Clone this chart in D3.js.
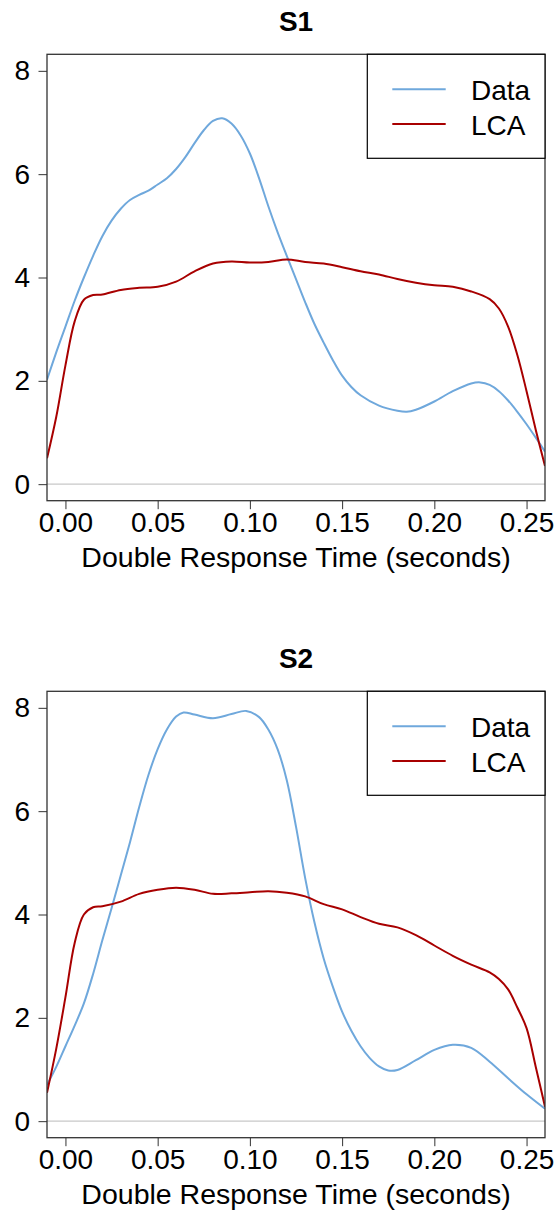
<!DOCTYPE html>
<html>
<head>
<meta charset="utf-8">
<script src="https://cdn.jsdelivr.net/npm/d3@7"></script>
<style>
  html, body { margin: 0; padding: 0; background: #fff; }
  svg text { font-family: "Liberation Sans", Arial, Helvetica, sans-serif; fill: #000; }
</style>
</head>
<body>
<svg id="chart" width="556" height="1211"></svg>
<script>
// ---------- data ----------
const panelTitles = ["S1", "S2"];
const seriesNames = ["Data", "LCA"];
const seriesColors = ["#6fa8dc", "#a80000"];
const xTickValues = [0, 0.05, 0.10, 0.15, 0.20, 0.25];
const yTickValues = [0, 2, 4, 6, 8];
const xLabel = "Double Response Time (seconds)";

// S1 - Data
const s1DataT = [-0.01,-0.005,0,0.005,0.01,0.015,0.02,0.025,0.03,0.035,0.04,0.045,0.05,0.055,0.06,0.065,0.07,0.075,0.08,0.085,0.09,0.095,0.1,0.105,0.11,0.115,0.12,0.125,0.13,0.135,0.14,0.145,0.15,0.155,0.16,0.17,0.18,0.185,0.19,0.2,0.21,0.22,0.225,0.23,0.235,0.24,0.245,0.25,0.255,0.26];
const s1DataV = [2.02,2.55,3.05,3.55,4.0,4.42,4.8,5.1,5.33,5.5,5.6,5.68,5.8,5.92,6.1,6.33,6.6,6.85,7.03,7.08,6.98,6.75,6.4,5.92,5.38,4.88,4.42,3.97,3.52,3.1,2.74,2.4,2.1,1.88,1.72,1.52,1.42,1.4,1.44,1.6,1.8,1.95,1.97,1.92,1.8,1.62,1.4,1.16,0.9,0.63];
// S1 - LCA
const s1LcaT = [-0.01,-0.005,0,0.005,0.01,0.015,0.02,0.03,0.04,0.05,0.06,0.07,0.08,0.09,0.1,0.11,0.12,0.13,0.14,0.15,0.16,0.17,0.18,0.19,0.2,0.21,0.22,0.23,0.235,0.24,0.245,0.25,0.255,0.26];
const s1LcaV = [0.5,1.3,2.3,3.15,3.57,3.66,3.67,3.76,3.8,3.82,3.92,4.12,4.27,4.31,4.29,4.3,4.35,4.3,4.27,4.2,4.12,4.06,3.97,3.9,3.85,3.82,3.73,3.58,3.4,3.05,2.5,1.8,1.05,0.35];
// S2 - Data
const s2DataT = [-0.01,-0.005,0,0.005,0.01,0.015,0.02,0.025,0.03,0.035,0.04,0.045,0.05,0.055,0.06,0.064,0.07,0.08,0.09,0.098,0.105,0.11,0.115,0.12,0.125,0.13,0.135,0.14,0.145,0.15,0.155,0.16,0.165,0.17,0.175,0.18,0.19,0.2,0.21,0.22,0.23,0.24,0.25,0.26];
const s2DataV = [0.7,1.05,1.45,1.85,2.28,2.85,3.5,4.12,4.76,5.4,6.08,6.7,7.2,7.58,7.83,7.91,7.87,7.8,7.88,7.94,7.82,7.58,7.2,6.6,5.7,4.7,3.85,3.15,2.6,2.12,1.75,1.45,1.22,1.06,0.98,0.99,1.18,1.38,1.48,1.42,1.15,0.83,0.52,0.24];
// S2 - LCA
const s2LcaT = [-0.01,-0.005,0,0.005,0.01,0.015,0.02,0.03,0.04,0.05,0.06,0.07,0.08,0.09,0.1,0.11,0.12,0.13,0.14,0.15,0.16,0.17,0.18,0.19,0.2,0.21,0.22,0.23,0.235,0.24,0.245,0.25,0.255,0.26];
const s2LcaV = [0.55,1.4,2.4,3.45,4.0,4.14,4.16,4.25,4.4,4.48,4.52,4.48,4.4,4.41,4.43,4.45,4.42,4.35,4.2,4.1,3.95,3.82,3.75,3.6,3.4,3.2,3.03,2.88,2.75,2.55,2.2,1.8,1.05,0.28];

const panels = [
  { title: panelTitles[0], series: [ [s1DataT, s1DataV], [s1LcaT, s1LcaV] ] },
  { title: panelTitles[1], series: [ [s2DataT, s2DataV], [s2LcaT, s2LcaV] ] }
];

// ---------- layout ----------
const svg = d3.select("#chart");
const plotL = 47, plotR = 545, plotT = 54.3, plotB = 500.7;
const panelOffset = 637;
const fontSize = 28;

const x = d3.scaleLinear().domain([-0.01, 0.26]).range([plotL, plotR]);
const y = d3.scaleLinear().domain([-0.32, 8.32]).range([plotB, plotT]);

panels.forEach((p, i) => {
  const g = svg.append("g").attr("transform", `translate(0,${i * panelOffset})`);
  const clipId = "clip" + i;
  g.append("clipPath").attr("id", clipId)
    .append("rect").attr("x", plotL).attr("y", plotT)
    .attr("width", plotR - plotL).attr("height", plotB - plotT);

  // title
  g.append("text")
    .attr("x", (plotL + plotR) / 2).attr("y", 30.7)
    .attr("text-anchor", "middle")
    .style("font-size", fontSize + "px").style("font-weight", "bold")
    .text(p.title);

  // zero reference line
  g.append("line")
    .attr("x1", plotL).attr("x2", plotR)
    .attr("y1", y(0)).attr("y2", y(0))
    .attr("stroke", "#c8c8c8").attr("stroke-width", 1.2);

  // curves
  const line = d3.line()
    .x(d => x(d[0])).y(d => y(d[1]))
    .curve(d3.curveCatmullRom.alpha(0.5));
  p.series.forEach((s, k) => {
    const pts = s[0].map((t, j) => [t, s[1][j]]);
    g.append("path")
      .attr("clip-path", `url(#${clipId})`)
      .attr("d", line(pts))
      .attr("fill", "none")
      .attr("stroke", seriesColors[k])
      .attr("stroke-width", 2);
  });

  // axes
  const xAxis = d3.axisBottom(x).tickValues(xTickValues)
    .tickFormat(d3.format(".2f")).tickSize(8.5).tickSizeOuter(0).tickPadding(3);
  const xg = g.append("g").attr("transform", `translate(0,${plotB})`).call(xAxis);
  xg.select(".domain").remove();
  xg.selectAll("text").style("font-size", fontSize + "px").attr("fill", "#000");
  xg.selectAll("line").attr("stroke", "#333");

  const yAxis = d3.axisLeft(y).tickValues(yTickValues)
    .tickFormat(d3.format("d")).tickSize(8.5).tickSizeOuter(0).tickPadding(8.5);
  const yg = g.append("g").attr("transform", `translate(${plotL},0)`).call(yAxis);
  yg.select(".domain").remove();
  yg.selectAll("text").style("font-size", fontSize + "px").attr("fill", "#000");
  yg.selectAll("line").attr("stroke", "#333");

  // plot box
  g.append("rect")
    .attr("x", plotL).attr("y", plotT)
    .attr("width", plotR - plotL).attr("height", plotB - plotT)
    .attr("fill", "none").attr("stroke", "#333").attr("stroke-width", 1.3);

  // x label
  g.append("text")
    .attr("x", (plotL + plotR) / 2).attr("y", 567)
    .attr("text-anchor", "middle")
    .style("font-size", "28.5px")
    .text(xLabel);

  // legend
  const lg = g.append("g");
  lg.append("rect")
    .attr("x", 367.3).attr("y", plotT)
    .attr("width", plotR - 367.3).attr("height", 158.3 - plotT)
    .attr("fill", "#fff").attr("stroke", "#000").attr("stroke-width", 1.2);
  const legY = [89.3, 124];
  seriesNames.forEach((n, k) => {
    lg.append("line")
      .attr("x1", 392.3).attr("x2", 445.7)
      .attr("y1", legY[k]).attr("y2", legY[k])
      .attr("stroke", seriesColors[k]).attr("stroke-width", 2);
    lg.append("text")
      .attr("x", 471).attr("y", legY[k] + 10.5)
      .style("font-size", fontSize + "px")
      .text(n);
  });
});
</script>
</body>
</html>
